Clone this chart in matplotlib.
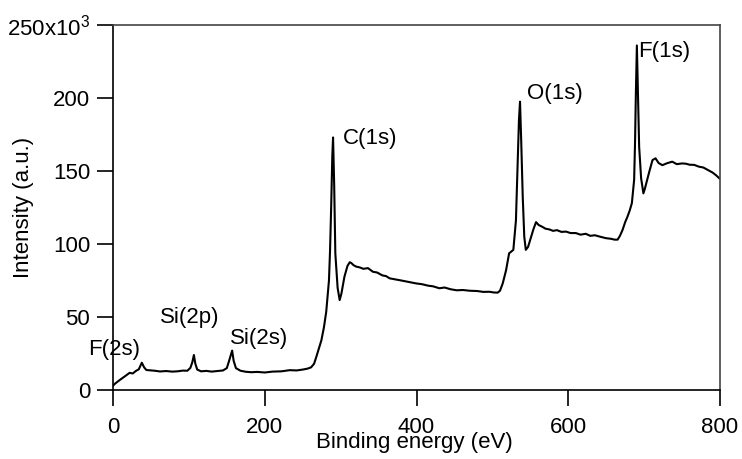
"""XPS survey spectrum: intensity vs binding energy with peak labels."""

import matplotlib
matplotlib.use("Agg")
import matplotlib.pyplot as plt

plt.rcParams["font.family"] = ["Liberation Sans", "DejaVu Sans"]
plt.rcParams["mathtext.fontset"] = "custom"
plt.rcParams["mathtext.rm"] = "Liberation Sans"
plt.rcParams["mathtext.it"] = "Liberation Sans:italic"

# binding energy (eV) and intensity (x10^3 counts)
# one line per stretch of the spectrum, same line layout in both lists
energy = [
    0, 3, 8, 12, 18, 22, 26, 30, 34, 38, 41, 44,
    50, 55, 62, 70, 78, 85, 92, 98,
    102, 104.5, 106.6, 108.5, 111, 116, 123, 130, 138, 145,
    150, 153, 155.5, 157, 159, 162, 168,
    175, 182, 190, 200, 210, 222, 233, 242, 250, 256, 261, 265,
    268, 271, 274.6, 278, 281, 284.6, 286, 287.5, 289, 290, 291.5, 293, 296, 298.7, 301,
    305, 309, 312, 314, 317, 320.6, 325, 330, 336, 342.5, 348, 355, 360, 364.5, 372, 380,
    388, 399.6, 407, 415, 422, 430, 437, 445, 453, 461, 470, 480, 488, 496, 502, 507,
    510, 513.6, 518, 522, 527.6, 531, 533, 535, 536.4, 538, 540, 542, 544, 547, 551, 554, 557.5,
    561, 565, 570, 575, 580, 585, 591, 597, 603, 610, 616, 623, 629, 635, 642, 649.6, 656, 661, 665, 668,
    671.5, 675, 678, 681, 683.8, 686.8, 688, 689, 690.4, 691.5, 693.4, 696, 699, 701, 704, 707, 711,
    715, 719, 724, 730, 737, 743, 750, 755, 760, 766, 772, 778, 784, 790, 795, 799,
]
intensity = [
    3, 4.5, 6.5, 8, 10.2, 11.8, 11.3, 13, 14.2, 18.7, 15.5, 13.7,
    13.4, 13.2, 12.7, 13.0, 12.6, 12.8, 13.3, 13.2,
    15.2, 19, 24, 18, 14, 12.8, 13.1, 12.6, 13.0, 13.4,
    15, 20, 24.5, 27, 20, 15, 13.2,
    12.5, 12.2, 12.4, 12.0, 12.6, 12.8, 13.6, 13.4, 14.0, 14.6, 15.5, 18,
    22.8, 28, 34, 43, 53.6, 75, 95, 125, 160, 173, 140, 93.6, 70, 61.6, 66,
    77.6, 85, 87.5, 87, 85.5, 84.5, 84, 83, 83.5, 81, 80.5, 78.5, 78, 76.5, 75.8, 75,
    74.2, 73, 72.5, 71.5, 71, 69.7, 70.2, 69, 68.3, 68.5, 68, 67.8, 67.2, 67.3, 66.8, 66.7,
    68, 73, 82, 93.6, 96, 116, 150, 185, 197.5, 170, 132, 105, 96, 98, 105, 110, 115,
    113, 112, 110.5, 110, 109, 109.5, 108.3, 108.5, 107.5, 107.5, 106.4, 107, 105.6, 106, 105, 104, 103.6, 103, 103, 105.5,
    109.6, 115, 118.7, 123, 128, 144, 170, 201, 236, 210, 166.6, 145, 134.7, 138, 144, 150, 157.5,
    158.7, 155.5, 154, 155.3, 156.4, 154.7, 155.2, 155, 154.3, 154.2, 153, 152.4, 150.7, 149, 147, 145,
]

peak_labels = ["F(2s)", "Si(2p)", "Si(2s)", "C(1s)", "O(1s)", "F(1s)"]
label_x = [-33, 62, 154, 302.6, 545, 692]
label_y = [28, 50, 35.6, 172, 203, 232]

yticks = [0, 50, 100, 150, 200, 250]
ytick_labels = ["0", "50", "100", "150", "200", "250x10$^{3}$"]
xticks = [0, 200, 400, 600, 800]

fig = plt.figure(figsize=(7.42, 4.59), dpi=100)
ax = fig.add_axes([0.1523, 0.1503, 0.8181, 0.7952])

ax.plot(energy, intensity, color="black", linewidth=1.5)

for text, x, y in zip(peak_labels, label_x, label_y):
    ax.text(x, y, text, fontsize=16, ha="left", va="center", clip_on=False)

ax.set_xlim(0, 800)
ax.set_ylim(0, 250)
ax.set_xticks(xticks)
ax.set_yticks(yticks)
ax.set_yticklabels(ytick_labels)
ax.tick_params(axis="both", direction="out", length=11.5, width=1.2,
               labelsize=16, pad=5)
ax.tick_params(axis="x", pad=8)

for side in ("left", "bottom"):
    ax.spines[side].set_linewidth(1.2)
for side in ("top", "right"):
    ax.spines[side].set_linewidth(1.2)
    ax.spines[side].set_color("#444444")

ax.set_xlabel("Binding energy (eV)", fontsize=16)
ax.xaxis.set_label_coords(0.497, -0.115)
ax.set_ylabel("Intensity (a.u.)", fontsize=16)
ax.yaxis.set_label_coords(-0.13, 0.5)

plt.savefig("out.png", dpi=100)
